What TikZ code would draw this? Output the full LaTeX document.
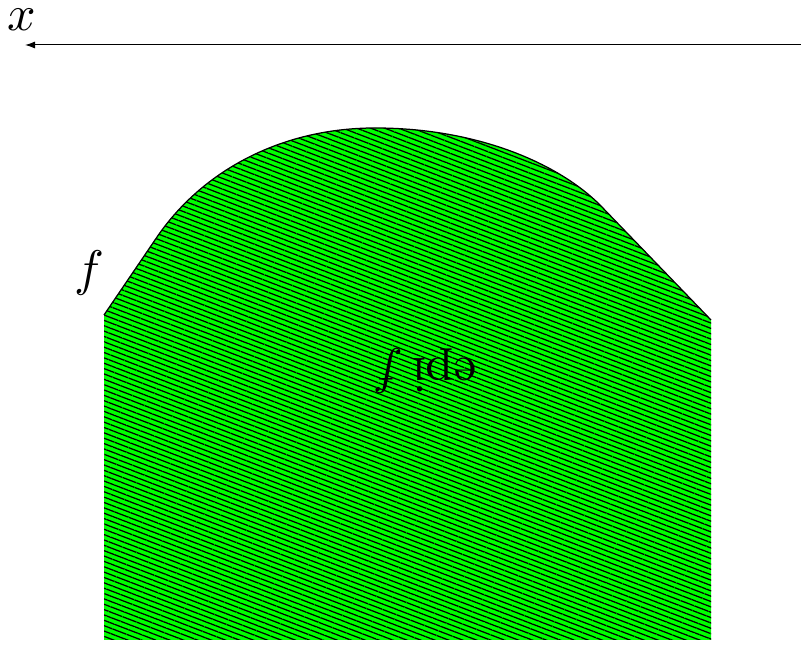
\documentclass[tikz,border=0pt]{standalone}
\usetikzlibrary{patterns.meta,arrows.meta}
\tikzset{
  hatchfill/.style={preaction={fill=green}, pattern={Lines[angle=-21,distance=1pt,line width=0.25pt]}, pattern color=black},
  axisline/.style={line width=0.2pt,-{Latex[length=2pt,width=1.4pt]}},
}
\begin{document}
\begin{tikzpicture}[x=0.2pt,y=-0.2pt]
\useasboundingbox (0,0) rectangle (801,650);
\coordinate (xs) at (801,45);
\coordinate (xe) at (25,45);
\draw[axisline] (xs) -- (xe);
\node[inner sep=0pt] (xl) at (22,20) {$x$};
\path[hatchfill] (104,315) -- (155,240) .. controls (200,172) and (280,128) .. (375,128) .. controls (480,128) and (560,165) .. (600,205) -- (711,320) -- (711,640) -- (104,640) -- cycle;
\draw[line width=0.25pt] (104,315) -- (155,240) .. controls (200,172) and (280,128) .. (375,128) .. controls (480,128) and (560,165) .. (600,205) -- (711,320);
\node (fl) at (89,273) {$f$};
\node[rotate=180] (epi) at (425,371) {$\mathrm{epi}\,f$};
\end{tikzpicture}
\end{document}
